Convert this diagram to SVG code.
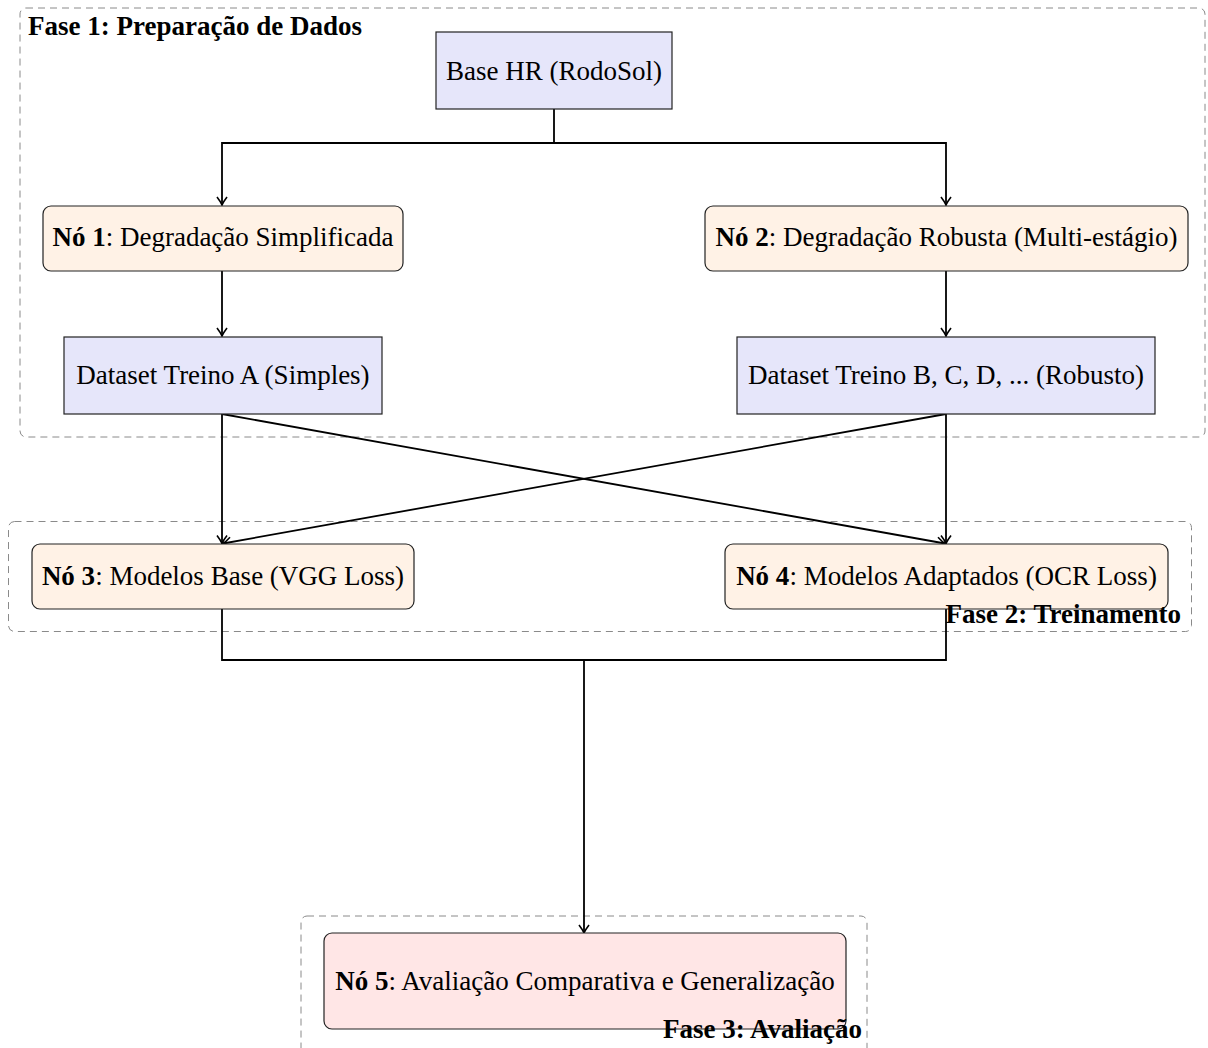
<svg xmlns="http://www.w3.org/2000/svg" width="1208" height="1048" viewBox="0 0 1208 1048">
<defs>
<style>
.phase{fill:none;stroke:#8a8a8a;stroke-width:1;stroke-dasharray:7 5}
.data{fill:#e6e6fa;stroke:#222;stroke-width:1.2}
.proc{fill:#fff2e6;stroke:#222;stroke-width:1.2}
.eval{fill:#ffe6e6;stroke:#222;stroke-width:1.2}
text{font-family:"Liberation Serif","Times New Roman",serif;font-size:27px;fill:#000}
.lbl{font-weight:bold}
.c{text-anchor:middle}
.conn path{fill:none;stroke:#000;stroke-width:1.8}
</style>
<marker id="arr" markerUnits="userSpaceOnUse" markerWidth="16" markerHeight="16" viewBox="-10 -8 12 16" refX="0" refY="0" orient="auto">
<path d="M-8,-5 Q-3,-1.2 0,0 Q-3,1.2 -8,5" fill="none" stroke="#000" stroke-width="1.6"/>
</marker>
</defs>
<rect width="1208" height="1048" fill="#fff"/>
<g id="fase1"><rect class="phase" x="20" y="8" width="1185" height="429" rx="6"/><text class="lbl" x="28" y="35">Fase 1: Preparação de Dados</text></g>
<g id="fase2"><rect class="phase" x="8.5" y="521.5" width="1183" height="110" rx="6"/></g>
<g id="fase3"><rect class="phase" x="301" y="916" width="566" height="150" rx="6"/></g>
<g class="conn" id="connectors">
<path d="M554,109 V143 H222 V205" marker-end="url(#arr)"/>
<path d="M554,143 H946 V205" marker-end="url(#arr)"/>
<path d="M222,271 V336" marker-end="url(#arr)"/>
<path d="M946,271 V336" marker-end="url(#arr)"/>
<path d="M222,414 V543.5" marker-end="url(#arr)"/>
<path d="M222,414 L945,543.5" marker-end="url(#arr)"/>
<path d="M946,414 V543.5" marker-end="url(#arr)"/>
<path d="M946,414 L223,543.5" marker-end="url(#arr)"/>
<path d="M222,609 V660 H946 V609"/>
<path d="M584,660 V933" marker-end="url(#arr)"/>
</g>
<g id="base"><rect class="data" x="436" y="32" width="236" height="77"/><text class="c" x="554" y="80">Base HR (RodoSol)</text></g>
<g id="no1"><rect class="proc" x="43" y="206" width="360" height="65" rx="8"/><text class="c" x="223" y="246"><tspan class="lbl">Nó 1</tspan>: Degradação Simplificada</text></g>
<g id="no2"><rect class="proc" x="705" y="206" width="483" height="65" rx="8"/><text class="c" x="946.5" y="246"><tspan class="lbl">Nó 2</tspan>: Degradação Robusta (Multi-estágio)</text></g>
<g id="dsA"><rect class="data" x="64" y="337" width="318" height="77"/><text class="c" x="223" y="384">Dataset Treino A (Simples)</text></g>
<g id="dsB"><rect class="data" x="737" y="337" width="418" height="77"/><text class="c" x="946" y="384">Dataset Treino B, C, D, ... (Robusto)</text></g>
<g id="no3"><rect class="proc" x="32" y="544" width="382" height="65" rx="8"/><text class="c" x="223" y="585"><tspan class="lbl">Nó 3</tspan>: Modelos Base (VGG Loss)</text></g>
<g id="no4"><rect class="proc" x="725" y="544" width="443" height="65" rx="8"/><text class="c" x="946.5" y="585"><tspan class="lbl">Nó 4</tspan>: Modelos Adaptados (OCR Loss)</text></g>
<g id="fase2lbl"><text class="lbl" x="1181" y="623" text-anchor="end">Fase 2: Treinamento</text></g>
<g id="no5"><rect class="eval" x="324" y="933" width="522" height="96" rx="8"/><text class="c" x="585" y="990"><tspan class="lbl">Nó 5</tspan>: Avaliação Comparativa e Generalização</text></g>
<g id="fase3lbl"><text class="lbl" x="862" y="1038" text-anchor="end">Fase 3: Avaliação</text></g>
</svg>
